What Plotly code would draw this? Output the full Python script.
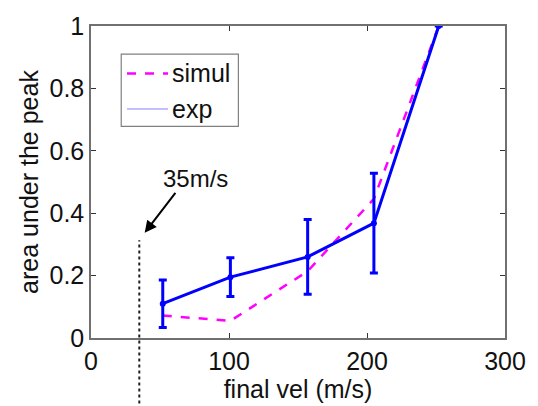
import plotly.graph_objects as go

# Experimental data (final velocity vs. normalised peak area)
exp_vel = [52, 101, 157, 205, 252]
exp_area = [0.11, 0.195, 0.26, 0.368, 1.0]
exp_err = [0.076, 0.062, 0.12, 0.16, 0.0]

# Simulation results
sim_vel = [52, 101, 157, 205, 252]
sim_area = [0.072, 0.055, 0.214, 0.446, 1.0]

# Threshold velocity marker
threshold_vel = 35
threshold_label = "35m/s"

x_ticks = [0, 100, 200, 300]
y_ticks = [0, 0.2, 0.4, 0.6, 0.8, 1.0]

FONT = "Liberation Sans, Arial, sans-serif"
AXIS_COLOR = "#707070"
SIM_COLOR = "#ff00ff"
EXP_COLOR = "#0000ff"

fig = go.Figure()

fig.add_trace(go.Scatter(
    x=sim_vel, y=sim_area, mode="lines", name="simul",
    line=dict(color=SIM_COLOR, width=2.5, dash="dash"),
    showlegend=False,
))
fig.add_trace(go.Scatter(
    x=exp_vel, y=exp_area, mode="lines+markers", name="exp",
    line=dict(color=EXP_COLOR, width=3),
    marker=dict(color=EXP_COLOR, size=6),
    error_y=dict(type="data", array=exp_err, visible=True,
                 color=EXP_COLOR, thickness=3, width=4),
    showlegend=False,
))

# Dotted threshold line, running below the axis
fig.add_shape(type="line", xref="x", yref="paper",
              x0=threshold_vel, x1=threshold_vel, y0=-0.21, y1=0.313,
              line=dict(color="#222222", width=2, dash="dot"))

# Arrow pointing at the threshold line
fig.add_annotation(x=38.9, y=0.337, ax=62, ay=0.47,
                   xref="x", yref="y", axref="x", ayref="y",
                   text="", showarrow=True, arrowhead=2, arrowsize=1.2,
                   arrowwidth=2, arrowcolor="#000000")
fig.add_annotation(x=76, y=0.51, xref="x", yref="y", text=threshold_label,
                   showarrow=False, font=dict(family=FONT, size=24, color="#111111"))

# Legend box
fig.add_shape(type="rect", xref="paper", yref="paper",
              x0=0.073, x1=0.356, y0=0.678, y1=0.910,
              line=dict(color="#808080", width=1.2), fillcolor="white", layer="above")
legend_rows = [("simul", 0.848, dict(color=SIM_COLOR, width=2.5, dash="dash")),
               ("exp", 0.734, dict(color="#8080ff", width=1))]
for label, ypos, style in legend_rows:
    fig.add_shape(type="line", xref="paper", yref="paper",
                  x0=0.087, x1=0.186, y0=ypos, y1=ypos, line=style, layer="above")
    fig.add_annotation(x=0.190, y=ypos, xref="paper", yref="paper", text=label,
                       xanchor="left", yanchor="middle", showarrow=False,
                       font=dict(family=FONT, size=25, color="#111111"))

axis_common = dict(
    showline=True, linecolor=AXIS_COLOR, linewidth=1.5, mirror="ticks",
    ticks="inside", ticklen=5, tickwidth=1, tickcolor="#333333",
    showgrid=False, zeroline=False,
    tickfont=dict(family=FONT, size=25, color="#111111"),
)

fig.update_layout(
    width=538, height=406,
    margin=dict(l=91, r=23, t=16, b=67),
    paper_bgcolor="white", plot_bgcolor="white",
    font=dict(family=FONT, color="#111111"),
    showlegend=False,
    xaxis=dict(range=[0, 300], tickvals=x_ticks, ticktext=[str(v) for v in x_ticks],
               title=dict(text="final vel (m/s)", font=dict(family=FONT, size=25), standoff=2),
               **axis_common),
    yaxis=dict(range=[0, 1], tickvals=y_ticks,
               ticktext=["0", "0.2", "0.4", "0.6", "0.8", "1"],
               title=dict(text="area under the peak", font=dict(family=FONT, size=25), standoff=4),
               **axis_common),
)

fig.write_html("out.html")
